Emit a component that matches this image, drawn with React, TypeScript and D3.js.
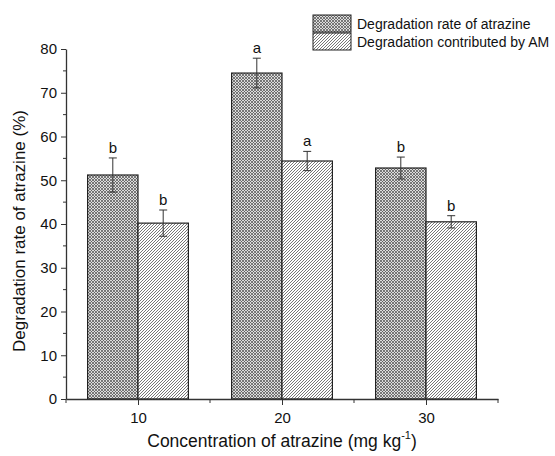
import { useEffect, useRef } from 'react';
import * as d3 from 'd3';

const concentrations = [10, 20, 30];
const seriesNames = ['Degradation rate of atrazine', 'Degradation contributed by AM'];
const rateValues = [51.2, 74.5, 52.8];
const rateErrors = [3.9, 3.4, 2.5];
const rateLetters = ['b', 'a', 'b'];
const amValues = [40.2, 54.4, 40.5];
const amErrors = [3.0, 2.2, 1.4];
const amLetters = ['b', 'a', 'b'];
const yTicks = [0, 10, 20, 30, 40, 50, 60, 70, 80];
const xTicks = [10, 20, 30];

export default function App() {
  const svgRef = useRef<SVGSVGElement>(null);

  useEffect(() => {
    const width = 555;
    const height = 456;
    const svg = d3.select(svgRef.current)
      .attr('width', width)
      .attr('height', height);
    svg.selectAll('*').remove();

    const font = 'Liberation Sans, Arial, sans-serif';
    const defs = svg.append('defs');

    const cross = defs.append('pattern')
      .attr('id', 'cross')
      .attr('patternUnits', 'userSpaceOnUse')
      .attr('width', 3)
      .attr('height', 3);
    cross.append('rect').attr('width', 3).attr('height', 3).attr('fill', '#dcdcdc');
    cross.append('path')
      .attr('d', 'M0,0 L3,3 M3,0 L0,3')
      .attr('stroke', '#555')
      .attr('stroke-width', 0.75);

    const hatch = defs.append('pattern')
      .attr('id', 'hatch')
      .attr('patternUnits', 'userSpaceOnUse')
      .attr('width', 3)
      .attr('height', 3);
    hatch.append('rect').attr('width', 3).attr('height', 3).attr('fill', '#fff');
    hatch.append('path')
      .attr('d', 'M-1,1 L1,-1 M0,3 L3,0 M2,4 L4,2')
      .attr('stroke', '#4a4a4a')
      .attr('stroke-width', 0.75);

    const x = d3.scaleLinear().domain([5, 35]).range([66, 498]);
    const y = d3.scaleLinear().domain([0, 80]).range([399, 49]);
    const barW = x(8.5) - x(5);

    const g = svg.append('g');

    const series = [
      { values: rateValues, errors: rateErrors, letters: rateLetters, fill: 'url(#cross)', offset: -1 },
      { values: amValues, errors: amErrors, letters: amLetters, fill: 'url(#hatch)', offset: 0 },
    ];

    series.forEach(s => {
      const bars = g.append('g');
      bars.selectAll('rect')
        .data(concentrations)
        .join('rect')
        .attr('x', d => x(d) + s.offset * barW)
        .attr('y', (d, i) => y(s.values[i]))
        .attr('width', barW)
        .attr('height', (d, i) => y(0) - y(s.values[i]))
        .attr('fill', s.fill)
        .attr('stroke', '#222')
        .attr('stroke-width', 1.2);

      const cx = (d: number) => x(d) + s.offset * barW + barW / 2;
      bars.selectAll('path.err')
        .data(concentrations)
        .join('path')
        .attr('class', 'err')
        .attr('d', (d, i) => {
          const c = cx(d);
          const top = y(s.values[i] + s.errors[i]);
          const bot = y(s.values[i] - s.errors[i]);
          return `M${c - 4},${top} H${c + 4} M${c},${top} V${bot} M${c - 4},${bot} H${c + 4}`;
        })
        .attr('stroke', '#333')
        .attr('stroke-width', 1)
        .attr('fill', 'none');

      bars.selectAll('text')
        .data(concentrations)
        .join('text')
        .attr('x', d => cx(d))
        .attr('y', (d, i) => y(s.values[i] + s.errors[i]) - 5)
        .attr('text-anchor', 'middle')
        .attr('font-family', font)
        .attr('font-size', 15)
        .attr('fill', '#111')
        .text((d, i) => s.letters[i]);
    });

    // y axis
    const yAxis = g.append('g').attr('transform', `translate(${x(5)},0)`)
      .call(d3.axisLeft(y).tickValues(yTicks).tickSize(5).tickPadding(4).tickSizeOuter(0));
    yAxis.append('g').selectAll('line')
      .data(d3.range(5, 80, 10))
      .join('line')
      .attr('x1', -3).attr('x2', 0)
      .attr('y1', d => y(d)).attr('y2', d => y(d))
      .attr('stroke', '#333');

    // x axis
    const xAxis = g.append('g').attr('transform', `translate(0,${y(0)})`)
      .call(d3.axisBottom(x).tickValues(xTicks).tickSize(6).tickPadding(7).tickSizeOuter(0));
    xAxis.append('g').selectAll('line')
      .data([5, 15, 25, 35])
      .join('line')
      .attr('x1', d => x(d)).attr('x2', d => x(d))
      .attr('y1', 0).attr('y2', 4)
      .attr('stroke', '#333');

    [yAxis, xAxis].forEach(a => {
      a.selectAll('path.domain').attr('stroke', '#333').attr('stroke-width', 1.3);
      a.selectAll('.tick line').attr('stroke', '#333');
      a.selectAll('text').attr('font-family', font).attr('font-size', 15).attr('fill', '#111');
    });

    svg.append('text')
      .attr('transform', `translate(25,231) rotate(-90)`)
      .attr('text-anchor', 'middle')
      .attr('font-family', font)
      .attr('font-size', 17)
      .attr('fill', '#111')
      .text('Degradation rate of atrazine (%)');

    const xt = svg.append('text')
      .attr('x', 282)
      .attr('y', 447)
      .attr('text-anchor', 'middle')
      .attr('font-family', font)
      .attr('font-size', 17.5)
      .attr('fill', '#111');
    xt.append('tspan').text('Concentration of atrazine (mg kg');
    xt.append('tspan').attr('font-size', 11).attr('dy', -8).text('-1');
    xt.append('tspan').attr('dy', 8).text(')');

    // legend
    const legend = svg.append('g');
    seriesNames.forEach((name, i) => {
      const ly = 15 + i * 18;
      legend.append('rect')
        .attr('x', 313).attr('y', ly)
        .attr('width', 38).attr('height', 17)
        .attr('fill', i === 0 ? 'url(#cross)' : 'url(#hatch)')
        .attr('stroke', '#222')
        .attr('stroke-width', 1);
      legend.append('text')
        .attr('x', 357).attr('y', ly + 14)
        .attr('font-family', font)
        .attr('font-size', 14)
        .attr('fill', '#111')
        .text(name);
    });
  }, []);

  return (
    <div style={{ position: 'fixed', left: 0, top: 0, width: 555, height: 456, overflow: 'hidden', background: '#fff' }}>
      <svg ref={svgRef} style={{ display: 'block' }}></svg>
    </div>
  );
}
